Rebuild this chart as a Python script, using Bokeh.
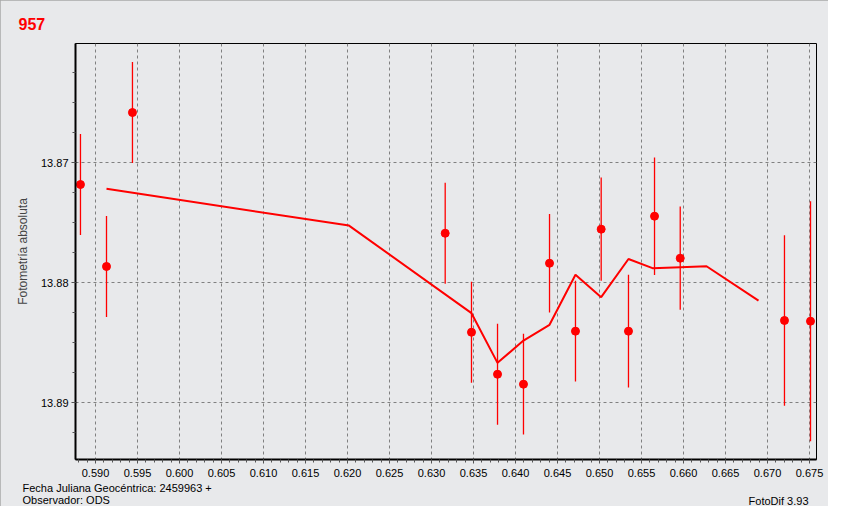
from bokeh.plotting import figure
from bokeh.models import Range1d, SingleIntervalTicker, NumeralTickFormatter, Title
from bokeh.embed import file_html
from bokeh.resources import INLINE

# ---- data ----
obs_x = [0.58821, 0.59131, 0.59440, 0.63163, 0.63476, 0.63786, 0.64095, 0.64405,
         0.64714, 0.65020, 0.65345, 0.65655, 0.65961, 0.67202, 0.67512]
obs_y = [13.87181, 13.87864, 13.86581, 13.87587, 13.88412, 13.88762, 13.88845, 13.87837,
         13.88403, 13.87553, 13.88403, 13.87445, 13.87795, 13.88314, 13.88320]
obs_err = [0.0042, 0.0042, 0.0042, 0.0042, 0.0042, 0.0042, 0.0042, 0.0041,
           0.0042, 0.0043, 0.0047, 0.0049, 0.0043, 0.0071, 0.0100]

trend_x = [0.59131, 0.62018, 0.63476, 0.63786, 0.64095, 0.64405, 0.64714, 0.65020,
           0.65345, 0.65631, 0.65964, 0.66274, 0.66893]
trend_y = [13.87217, 13.87523, 13.88253, 13.88667, 13.88481, 13.88350, 13.87933, 13.88120,
           13.87802, 13.87878, 13.87870, 13.87862, 13.88148]

title_text = "957"
y_label = "Fotometría absoluta"
date_text = "Fecha Juliana Geocéntrica: 2459963 +"
observer_text = "Observador: ODS"
software_text = "FotoDif 3.93"

BG = "#E8E9EB"
RED = "#FF0000"
FONT = "Liberation Sans"

p = figure(width=828, height=506, output_backend="svg", toolbar_location=None,
           x_range=Range1d(0.587619, 0.675833),
           y_range=Range1d(13.894725, 13.860058),
           min_border_left=75, min_border_right=12, min_border_top=43, min_border_bottom=47,
           background_fill_color=BG, border_fill_color=BG)
p.styles = {"outline": "2px solid #A8A8A8", "outline-offset": "-2px"}
p.outline_line_color = "black"
p.outline_line_width = 1

# title "957"
p.title.text = title_text
p.title.align = "left"
p.title.offset = -57
p.title.standoff = 24
p.title.vertical_align = "top"
p.title.text_color = RED
p.title.text_font = FONT
p.title.text_font_size = "16px"
p.title.text_font_style = "bold"

# axes
p.xaxis.ticker = SingleIntervalTicker(interval=0.005, num_minor_ticks=5)
p.yaxis.ticker = SingleIntervalTicker(interval=0.01, num_minor_ticks=4)
p.xaxis.formatter = NumeralTickFormatter(format="0.000")
p.yaxis.formatter = NumeralTickFormatter(format="0.00")
for ax in (p.xaxis, p.yaxis):
    ax.axis_line_width = 2
    ax.axis_line_color = "black"
    ax.major_tick_out = 4
    ax.major_tick_in = 0
    ax.minor_tick_out = 3
    ax.minor_tick_in = 0
    ax.major_tick_line_color = "#555555"
    ax.minor_tick_line_color = "#555555"
    ax.major_label_text_font = FONT
    ax.major_label_text_font_size = "11px"
    ax.major_label_text_color = "black"
p.xaxis.major_label_standoff = 5
p.yaxis.major_label_standoff = 3
p.yaxis.axis_label = y_label
p.yaxis.axis_label_text_font = FONT
p.yaxis.axis_label_text_font_size = "12px"
p.yaxis.axis_label_text_font_style = "normal"
p.yaxis.axis_label_standoff = 8

for g in (p.xgrid, p.ygrid):
    g.grid_line_color = "#808080"
    g.grid_line_dash = "3 3"
    g.grid_line_width = 1

# error bars
y_lo = [y - e for y, e in zip(obs_y, obs_err)]
y_hi = [y + e for y, e in zip(obs_y, obs_err)]
p.segment(x0=obs_x, y0=y_lo, x1=obs_x, y1=y_hi, line_color=RED, line_width=1.3)

# trend line
p.line(trend_x, trend_y, line_color=RED, line_width=2)

# points
p.scatter(obs_x, obs_y, marker="circle", size=8, fill_color=RED, line_color=RED)

# footer texts
footer_font = dict(text_font=FONT, text_font_size="11px", text_font_style="normal",
                   text_color="black")
p.add_layout(Title(text=date_text, align="left", offset=-53, standoff=5,
                   vertical_align="top", **footer_font), "below")


def zero_height_title(txt, align, offset):
    t = Title(text=txt, align=align, offset=offset, vertical_align="bottom", **footer_font)
    try:
        t.standoff = -13
    except Exception:
        t.standoff = 0
    return t


p.add_layout(zero_height_title(observer_text, "left", -53), "below")
p.add_layout(zero_height_title(software_text, "right", 8), "below")

open("out.html", "w").write(file_html(p, INLINE))
